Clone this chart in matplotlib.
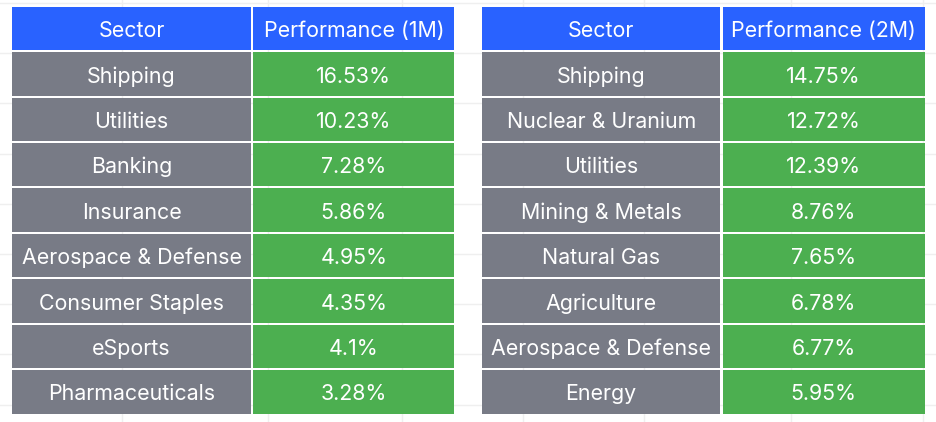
import matplotlib
matplotlib.use("Agg")
import matplotlib.pyplot as plt
from matplotlib.patches import Rectangle

# ---- data ----
headers_1m = ["Sector", "Performance (1M)"]
sectors_1m = ["Shipping", "Utilities", "Banking", "Insurance",
              "Aerospace & Defense", "Consumer Staples", "eSports", "Pharmaceuticals"]
perf_1m = [16.53, 10.23, 7.28, 5.86, 4.95, 4.35, 4.1, 3.28]

headers_2m = ["Sector", "Performance (2M)"]
sectors_2m = ["Shipping", "Nuclear & Uranium", "Utilities", "Mining & Metals",
              "Natural Gas", "Agriculture", "Aerospace & Defense", "Energy"]
perf_2m = [14.75, 12.72, 12.39, 8.76, 7.65, 6.78, 6.77, 5.95]

# ---- style ----
W, H = 936, 422
BLUE = "#2962FF"
GREY = "#787B86"
GREEN = "#4CAF50"
GRID = "#EFEFEF"
FONT = ["Inter", "DejaVu Sans"]
FS = 15.4
CAP_HALF = 8.7  # baseline offset below cell centre, px

fig = plt.figure(figsize=(W / 100, H / 100), dpi=100)
ax = fig.add_axes([0, 0, 1, 1])
ax.set_xlim(0, W)
ax.set_ylim(H, 0)
ax.axis("off")

# background spreadsheet grid
for yg in [3, 53.2, 103.4, 153.6, 203.8, 254, 304.2, 354.4, 404.6]:
    ax.axhline(yg, color=GRID, lw=1, zorder=0)
for xg in [122, 268, 402, 523, 644, 791, 923]:
    ax.axvline(xg, color=GRID, lw=1, zorder=0)

top = 6.7
step = 45.4
cell_h = 43.6


def fmt(v):
    s = f"{v:.2f}".rstrip("0").rstrip(".")
    return s + "%"


def put_text(xc, yc, txt):
    ax.text(xc, yc + CAP_HALF, txt, color="white", ha="center", va="baseline",
            fontsize=FS, family=FONT, zorder=3)


def draw_table(x0, col_w, headers, sectors, perf):
    xs = [x0, x0 + col_w[0] + 2.4]
    for j, h in enumerate(headers):
        ax.add_patch(Rectangle((xs[j], top), col_w[j], cell_h, facecolor=BLUE,
                               edgecolor="none", zorder=2))
        put_text(xs[j] + col_w[j] / 2, top + cell_h / 2, h)
    for i, (s, v) in enumerate(zip(sectors, perf)):
        y = top + (i + 1) * step
        cells = [(s, GREY), (fmt(v), GREEN)]
        for j, (txt, c) in enumerate(cells):
            ax.add_patch(Rectangle((xs[j], y), col_w[j], cell_h, facecolor=c,
                                   edgecolor="none", zorder=2))
            put_text(xs[j] + col_w[j] / 2, y + cell_h / 2, txt)


draw_table(12.3, [238.4, 201.3], headers_1m, sectors_1m, perf_1m)
draw_table(482, [238.3, 201.8], headers_2m, sectors_2m, perf_2m)

fig.savefig("out.png", dpi=100)
